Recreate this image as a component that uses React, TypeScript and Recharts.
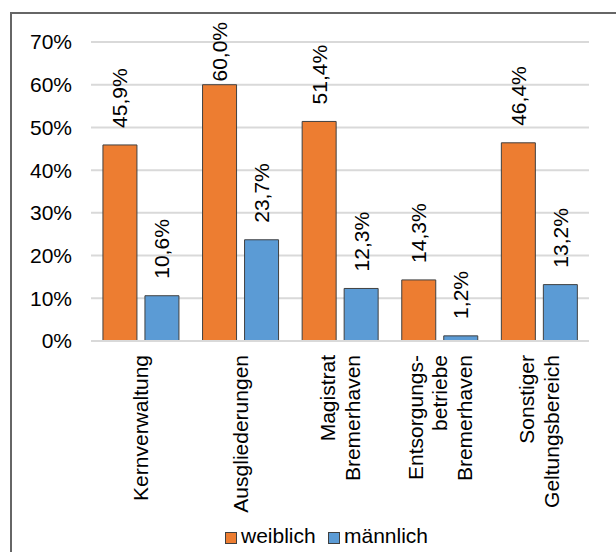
import { Bar, BarChart, CartesianGrid, LabelList, Legend, XAxis, YAxis } from "recharts";

const categories = [
  ["Kernverwaltung"],
  ["Ausgliederungen"],
  ["Magistrat", "Bremerhaven"],
  ["Entsorgungs-", "betriebe", "Bremerhaven"],
  ["Sonstiger", "Geltungsbereich"],
];
const weiblich = [45.9, 60.0, 51.4, 14.3, 46.4];
const maennlich = [10.6, 23.7, 12.3, 1.2, 13.2];
const yTicks = [0, 10, 20, 30, 40, 50, 60, 70];

const data = categories.map((lines, i) => ({
  name: lines.join(" "),
  lines,
  weiblich: weiblich[i],
  maennlich: maennlich[i],
}));

if (typeof document !== "undefined") {
  document.body.style.margin = "0";
  document.body.style.overflow = "hidden";
}

const FONT = "'Liberation Sans', Arial, sans-serif";
const FS = 21;
const ORANGE = "#ED7D31";
const BLUE = "#5B9BD5";

const fmt = (v: number) => `${v.toFixed(1).replace(".", ",")}%`;

// rough Arial advance widths, used to keep labels inside the chart area
const textLen = (s: string) =>
  s.split("").reduce((w, c) => w + (c === "," ? 0.278 : c === "%" ? 0.889 : 0.556), 0) * FS;

function ValueLabel(props: any) {
  const { x, y, width, value } = props;
  const cx = x + width / 2;
  const label = fmt(value);
  const start = Math.max(y - 17, 22 + textLen(label));
  return (
    <text
      x={cx}
      y={start}
      dy={FS * 0.355}
      transform={`rotate(-90 ${cx} ${start})`}
      textAnchor="start"
      fontSize={FS}
      fontFamily={FONT}
      fill="#000"
    >
      {label}
    </text>
  );
}

function CategoryTick(props: any) {
  const { x, y, index } = props;
  const lines = categories[index] ?? [];
  const top = y + 14;
  const step = 24.5;
  return (
    <g>
      {lines.map((line, i) => (
        <text
          key={i}
          x={x}
          y={top}
          dy={(i - (lines.length - 1) / 2) * step + FS * 0.355}
          transform={`rotate(-90 ${x} ${top})`}
          textAnchor="end"
          fontSize={FS}
          fontFamily={FONT}
          fill="#000"
        >
          {line}
        </text>
      ))}
    </g>
  );
}

function LegendBox() {
  const items = [
    { label: "weiblich", color: ORANGE, x: 225 },
    { label: "männlich", color: BLUE, x: 328 },
  ];
  return (
    <svg width={616} height={30} style={{ display: "block" }}>
      {items.map((it) => (
        <g key={it.label}>
          <rect x={it.x + 0.5} y={10.5} width={11} height={11} fill={it.color} stroke="#404040" strokeWidth={1} />
          <text x={it.x + 16} y={21} fontSize={FS} fontFamily={FONT} fill="#000">
            {it.label}
          </text>
        </g>
      ))}
    </svg>
  );
}

export default function App() {
  return (
    <div
      style={{
        position: "absolute",
        left: 0,
        top: 0,
        width: 616,
        height: 552,
        overflow: "hidden",
        background: "#fff",
      }}
    >
      <div
        style={{
          position: "absolute",
          left: 10,
          top: 12,
          width: 800,
          height: 800,
          borderTop: "2px solid #666",
          borderLeft: "2px solid #666",
        }}
      />
      <BarChart
        width={616}
        height={552}
        data={data}
        margin={{ top: 42, right: 27, left: 0, bottom: 0 }}
        barCategoryGap="12%"
        barGap={8}
        style={{ position: "absolute", left: 0, top: 0 }}
      >
        <CartesianGrid vertical={false} stroke="#d9d9d9" strokeWidth={2} />
        <XAxis
          dataKey="name"
          height={181}
          interval={0}
          tickLine={false}
          tickSize={0}
          tickMargin={0}
          axisLine={{ stroke: "#d9d9d9", strokeWidth: 2 }}
          tick={<CategoryTick />}
        />
        <YAxis
          width={91}
          domain={[0, 70]}
          ticks={yTicks}
          interval={0}
          tickFormatter={(v: number) => `${v}%`}
          axisLine={false}
          tickLine={false}
          tickSize={0}
          tickMargin={19}
          tick={{ fontSize: FS, fontFamily: FONT, fill: "#000" }}
        />
        <Legend verticalAlign="bottom" height={30} content={() => <LegendBox />} wrapperStyle={{ left: 0, width: 616 }} />
        <Bar dataKey="weiblich" name="weiblich" fill={ORANGE} stroke="#404040" strokeWidth={1} isAnimationActive={false}>
          <LabelList dataKey="weiblich" content={<ValueLabel />} />
        </Bar>
        <Bar dataKey="maennlich" name="männlich" fill={BLUE} stroke="#404040" strokeWidth={1} isAnimationActive={false}>
          <LabelList dataKey="maennlich" content={<ValueLabel />} />
        </Bar>
      </BarChart>
    </div>
  );
}
